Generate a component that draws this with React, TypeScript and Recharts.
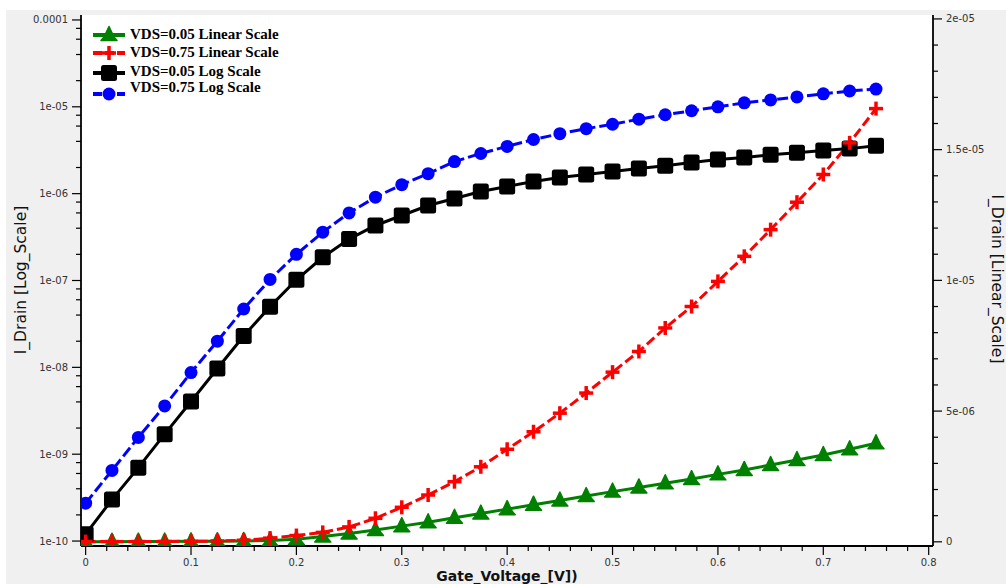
import React from "react"
import { ComposedChart, Line, XAxis, YAxis, CartesianGrid, Legend } from "recharts"

// Gate voltage sweep (V)
const GATE_V = [
  0, 0.025, 0.05, 0.075, 0.1, 0.125, 0.15, 0.175, 0.2, 0.225, 0.25, 0.275, 0.3, 0.325, 0.35, 0.375,
  0.4, 0.425, 0.45, 0.475, 0.5, 0.525, 0.55, 0.575, 0.6, 0.625, 0.65, 0.675, 0.7, 0.725, 0.75,
]

// drain current (A), right axis (linear)
const ID_VDS005_LIN = [
  0.003e-6, 0.005e-6, 0.008e-6, 0.012e-6, 0.017e-6, 0.024e-6, 0.034e-6, 0.05e-6, 0.1e-6, 0.2e-6,
  0.32e-6, 0.45e-6, 0.6e-6, 0.75e-6, 0.92e-6, 1.08e-6, 1.25e-6, 1.42e-6, 1.58e-6, 1.75e-6, 1.92e-6,
  2.08e-6, 2.24e-6, 2.4e-6, 2.58e-6, 2.75e-6, 2.94e-6, 3.13e-6, 3.32e-6, 3.54e-6, 3.77e-6,
]
const ID_VDS075_LIN = [
  0.01e-6, 0.01e-6, 0.012e-6, 0.015e-6, 0.02e-6, 0.03e-6, 0.06e-6, 0.14e-6, 0.24e-6, 0.36e-6,
  0.57e-6, 0.9e-6, 1.32e-6, 1.79e-6, 2.3e-6, 2.87e-6, 3.54e-6, 4.21e-6, 4.92e-6, 5.69e-6, 6.49e-6,
  7.28e-6, 8.18e-6, 9.0e-6, 9.96e-6, 10.92e-6, 11.94e-6, 12.99e-6, 14.05e-6, 15.26e-6, 16.57e-6,
]

// drain current (A), left axis (log)
const ID_VDS005_LOG = [
  1.2e-10, 3.0e-10, 7.0e-10, 1.7e-9, 4.05e-9, 9.7e-9, 2.3e-8, 5.0e-8, 1.02e-7, 1.85e-7, 3.0e-7,
  4.3e-7, 5.6e-7, 7.3e-7, 8.8e-7, 1.06e-6, 1.21e-6, 1.38e-6, 1.53e-6, 1.66e-6, 1.8e-6, 1.95e-6,
  2.1e-6, 2.28e-6, 2.47e-6, 2.6e-6, 2.8e-6, 2.96e-6, 3.13e-6, 3.3e-6, 3.57e-6,
]
const ID_VDS075_LOG = [
  2.73e-10, 6.5e-10, 1.56e-9, 3.6e-9, 8.7e-9, 2.0e-8, 4.7e-8, 1.03e-7, 2.0e-7, 3.6e-7, 6.0e-7,
  9.1e-7, 1.27e-6, 1.7e-6, 2.34e-6, 2.9e-6, 3.5e-6, 4.2e-6, 4.9e-6, 5.6e-6, 6.3e-6, 7.2e-6, 8.1e-6,
  9.0e-6, 1.0e-5, 1.11e-5, 1.2e-5, 1.3e-5, 1.41e-5, 1.52e-5, 1.6e-5,
]

const X_TICKS = [
  0, 0.02, 0.04, 0.06, 0.08, 0.1, 0.12, 0.14, 0.16, 0.18, 0.2, 0.22, 0.24, 0.26, 0.28, 0.3, 0.32,
  0.34, 0.36, 0.38, 0.4, 0.42, 0.44, 0.46, 0.48, 0.5, 0.52, 0.54, 0.56, 0.58, 0.6, 0.62, 0.64, 0.66,
  0.68, 0.7, 0.72, 0.74, 0.76, 0.78, 0.8,
]
const LOG_TICKS = [
  1e-10, 2e-10, 4e-10, 6e-10, 8e-10, 1e-9, 2e-9, 4e-9, 6e-9, 8e-9, 1e-8, 2e-8, 4e-8, 6e-8, 8e-8,
  1e-7, 2e-7, 4e-7, 6e-7, 8e-7, 1e-6, 2e-6, 4e-6, 6e-6, 8e-6, 1e-5, 2e-5, 4e-5, 6e-5, 8e-5, 1e-4,
]
const LOG_LABELS = { "-10": "1e-10", "-9": "1e-09", "-8": "1e-08", "-7": "1e-07", "-6": "1e-06", "-5": "1e-05", "-4": "0.0001" }
const LIN_TICKS = [
  0, 1e-6, 2e-6, 3e-6, 4e-6, 5e-6, 6e-6, 7e-6, 8e-6, 9e-6, 10e-6, 11e-6, 12e-6, 13e-6, 14e-6, 15e-6,
  16e-6, 17e-6, 18e-6, 19e-6, 20e-6,
]
const LIN_LABELS = { "0": "0", "5": "5e-06", "10": "1e-05", "15": "1.5e-05", "20": "2e-05" }

const SERIES = [
  { key: "g", name: "VDS=0.05 Linear Scale", axis: "lin", color: "#008000", marker: "tri", dash: undefined },
  { key: "k", name: "VDS=0.05 Log Scale", axis: "log", color: "#000000", marker: "square", dash: undefined },
  { key: "r", name: "VDS=0.75 Linear Scale", axis: "lin", color: "#ff0000", marker: "plus", dash: "10 4" },
  { key: "b", name: "VDS=0.75 Log Scale", axis: "log", color: "#0000ff", marker: "circle", dash: "11 4" },
]
const LEGEND_ORDER = ["g", "r", "k", "b"]

const data = GATE_V.map((v, i) => ({
  v,
  g: ID_VDS005_LIN[i],
  r: ID_VDS075_LIN[i],
  k: ID_VDS005_LOG[i],
  b: ID_VDS075_LOG[i],
}))

const TICK_FONT = { fontFamily: "DejaVu Sans", fontSize: 10, fill: "#333" }

function Marker({ kind, cx, cy, color }) {
  if (kind === "tri") {
    const pts = [
      [cx, cy - 8.5], [cx + 5, cy + 2], [cx + 8, cy + 5.5], [cx - 8, cy + 5.5], [cx - 5, cy + 2],
    ].map((p) => p.join(",")).join(" ")
    return <polygon points={pts} fill={color} stroke={color} strokeWidth={1.5} strokeLinejoin="round" />
  }
  if (kind === "plus") {
    return (
      <g stroke={color} strokeWidth={3.5}>
        <line x1={cx - 7} x2={cx + 7} y1={cy} y2={cy} />
        <line x1={cx} x2={cx} y1={cy - 7} y2={cy + 7} />
      </g>
    )
  }
  if (kind === "square") {
    return <rect x={cx - 8} y={cy - 8} width={16} height={16} rx={2.5} fill={color} />
  }
  return <circle cx={cx} cy={cy} r={6.5} fill={color} />
}

const XTick = ({ x, y, payload }) => {
  const v = payload.value
  const major = Math.abs(v * 10 - Math.round(v * 10)) < 1e-6
  return (
    <g>
      <line x1={x} x2={x} y1={y} y2={y + (major ? 9 : 5)} stroke="#000" strokeWidth={1.2} />
      {major && (
        <text x={x} y={y + 20} textAnchor="middle" {...TICK_FONT}>
          {String(Number(v.toFixed(1)))}
        </text>
      )}
    </g>
  )
}

const LogTick = ({ x, y, payload }) => {
  const e = Math.log10(payload.value)
  const major = Math.abs(e - Math.round(e)) < 1e-6
  return (
    <g>
      <line x1={x} x2={x - (major ? 9 : 5)} y1={y} y2={y} stroke="#000" strokeWidth={1.2} />
      {major && (
        <text x={x - 13} y={y} dy="0.35em" textAnchor="end" {...TICK_FONT}>
          {LOG_LABELS[String(Math.round(e))]}
        </text>
      )}
    </g>
  )
}

const LinTick = ({ x, y, payload }) => {
  const u = Math.round(payload.value * 1e6)
  const major = u % 5 === 0
  return (
    <g>
      <line x1={x} x2={x + (major ? 9 : 5)} y1={y} y2={y} stroke="#000" strokeWidth={1.2} />
      {major && (
        <text x={x + 13} y={y} dy="0.35em" textAnchor="start" {...TICK_FONT}>
          {LIN_LABELS[String(u)]}
        </text>
      )}
    </g>
  )
}

const titleFont = { fontFamily: "DejaVu Sans", fontSize: 15.5, fill: "#111" }

const renderLegend = () => (
  <svg width={230} height={80}>
    {LEGEND_ORDER.map((k, i) => {
      const s = SERIES.find((d) => d.key === k)
      const textY = [10, 28, 47, 63][i]
      const markY = [11, 29, 49, 70][i]
      return (
        <g key={k}>
          <line x1={5} x2={37} y1={markY} y2={markY} stroke={s.color} strokeWidth={4} strokeDasharray={s.dash ? "9 3" : undefined} />
          <Marker kind={s.marker} cx={21} cy={markY} color={s.color} />
          <text x={42} y={textY} dy="0.35em" fontFamily="Liberation Serif" fontWeight="bold" fontSize={15} fill="#000">
            {s.name}
          </text>
        </g>
      )
    })}
  </svg>
)

export default function App() {
  return (
    <div style={{ position: "absolute", left: 0, top: 0, width: 1006, height: 584, background: "#fff", overflow: "hidden" }}>
      <div style={{ position: "absolute", left: 6, top: 10, width: 1000, height: 574, background: "#f0f0f0" }} />
      <div style={{ position: "absolute", left: 0, top: 0 }}>
        <ComposedChart width={1006} height={584} data={data} margin={{ top: 15, right: 0, bottom: 0, left: 0 }}>
          <CartesianGrid xAxisId="x" yAxisId="log" horizontal={false} vertical={false} fill="#ffffff" />
          <XAxis
            xAxisId="x"
            dataKey="v"
            type="number"
            domain={[-0.0044, 0.8041]}
            allowDataOverflow
            ticks={X_TICKS}
            interval={0}
            height={38}
            tickSize={0}
            tickMargin={0}
            tickLine={false}
            tick={<XTick />}
            axisLine={{ stroke: "#000", strokeWidth: 1.8 }}
            label={() => (
              <text x={507} y={581} textAnchor="middle" {...titleFont} fontSize={14} fontWeight="bold">
                Gate_Voltage_[V])
              </text>
            )}
          />
          <XAxis
            xAxisId="top"
            orientation="top"
            dataKey="v"
            type="number"
            domain={[-0.0044, 0.8041]}
            allowDataOverflow
            height={0}
            tick={false}
            tickLine={false}
            axisLine={{ stroke: "#555", strokeWidth: 1.5 }}
          />
          <YAxis
            yAxisId="log"
            orientation="left"
            type="number"
            scale="log"
            domain={[Math.pow(10, -10.057), Math.pow(10, -3.943)]}
            allowDataOverflow
            ticks={LOG_TICKS}
            interval={0}
            width={81}
            tickSize={0}
            tickMargin={0}
            tickLine={false}
            tick={<LogTick />}
            axisLine={{ stroke: "#000", strokeWidth: 1.8 }}
            label={() => (
              <text x={21} y={280} textAnchor="middle" dominantBaseline="central" transform="rotate(-90, 21, 280)" {...titleFont}>
                I_Drain [Log_Scale]
              </text>
            )}
          />
          <YAxis
            yAxisId="lin"
            orientation="right"
            type="number"
            domain={[-0.16e-6, 20.15e-6]}
            allowDataOverflow
            ticks={LIN_TICKS}
            interval={0}
            width={73}
            tickSize={0}
            tickMargin={0}
            tickLine={false}
            tick={<LinTick />}
            axisLine={{ stroke: "#000", strokeWidth: 1.8 }}
            label={() => (
              <text x={997} y={279} textAnchor="middle" dominantBaseline="central" transform="rotate(90, 997, 279)" {...titleFont}>
                I_Drain [Linear_Scale]
              </text>
            )}
          />
          <Legend
            layout="horizontal"
            verticalAlign="middle"
            align="center"
            content={renderLegend}
            wrapperStyle={{ left: 88, top: 24, width: 230, height: 80 }}
          />
          {SERIES.map((s) => (
            <Line
              key={s.key}
              xAxisId="x"
              yAxisId={s.axis}
              dataKey={s.key}
              name={s.name}
              type="linear"
              stroke={s.color}
              strokeWidth={3}
              strokeDasharray={s.dash}
              isAnimationActive={false}
              dot={(p) => <Marker key={`${s.key}-${p.index}`} kind={s.marker} cx={p.cx} cy={p.cy} color={s.color} />}
              activeDot={false}
            />
          ))}
        </ComposedChart>
      </div>
    </div>
  )
}
